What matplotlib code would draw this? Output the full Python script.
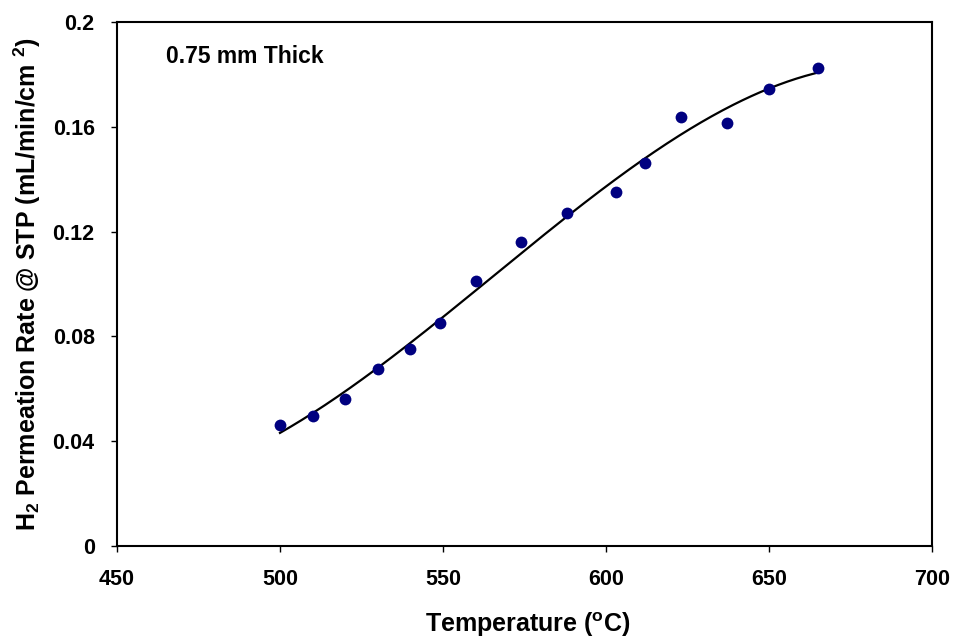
import numpy as np
import matplotlib
matplotlib.use("Agg")
import matplotlib.pyplot as plt

plt.rcParams["font.family"] = ["Liberation Sans", "DejaVu Sans"]
plt.rcParams["font.weight"] = "bold"
plt.rcParams["mathtext.fontset"] = "custom"
plt.rcParams["mathtext.rm"] = "Liberation Sans:bold"
plt.rcParams["mathtext.bf"] = "Liberation Sans:bold"
plt.rcParams["mathtext.it"] = "Liberation Sans:bold"
plt.rcParams["mathtext.default"] = "rm"

# Measured hydrogen permeation rates for a 0.75 mm membrane
temperature_c = [500, 510, 520, 530, 540, 549, 560, 574, 588, 603, 612, 623, 637, 650, 665]
permeation_rate = [0.0462, 0.0496, 0.0561, 0.0676, 0.0752, 0.0851, 0.1011, 0.1160,
                   0.1271, 0.1351, 0.1462, 0.1637, 0.1615, 0.1744, 0.1824]

x_ticks = [450, 500, 550, 600, 650, 700]
y_ticks = [0, 0.04, 0.08, 0.12, 0.16, 0.2]
y_tick_labels = ["0", "0.04", "0.08", "0.12", "0.16", "0.2"]

fig = plt.figure(figsize=(9.54, 6.40), dpi=100)
ax = fig.add_axes([0.1226, 0.1469, 0.8544, 0.8187])

# Third-order polynomial trendline through the measurements
coeffs = np.polyfit(temperature_c, permeation_rate, 3)
x_fit = np.linspace(min(temperature_c), max(temperature_c), 300)
ax.plot(x_fit, np.polyval(coeffs, x_fit), color="black", lw=1.6, zorder=2)

ax.plot(temperature_c, permeation_rate, "o", color="#000080", markersize=8.5,
        markeredgewidth=0, zorder=3)

ax.set_xlim(450, 700)
ax.set_ylim(0, 0.2)
ax.set_xticks(x_ticks)
ax.set_yticks(y_ticks)
ax.set_yticklabels(y_tick_labels)
ax.tick_params(direction="out", length=4.5, width=1, labelsize=15.5, colors="black")
ax.tick_params(axis="x", pad=12)
ax.tick_params(axis="y", pad=11.5)
for lbl in ax.get_xticklabels() + ax.get_yticklabels():
    lbl.set_fontweight("bold")
for sp in ax.spines.values():
    sp.set_linewidth(1.5)
    sp.set_color("black")

# Axis titles placed in figure coordinates
fig.text(528 / 954, 1 - 632 / 640, r"Temperature ($^o$C)", fontsize=18,
         fontweight="bold", ha="center", va="baseline")
fig.text(27 / 954, 1 - 284 / 640, r"H$_2$ Permeation Rate @ STP (mL/min/cm $^2$)",
         fontsize=18, fontweight="bold", rotation=90, ha="center", va="center")

ax.text(0.06, 0.935, "0.75 mm Thick", transform=ax.transAxes, fontsize=16.5,
        fontweight="bold", va="center", ha="left")

fig.savefig("out.png", dpi=100)
